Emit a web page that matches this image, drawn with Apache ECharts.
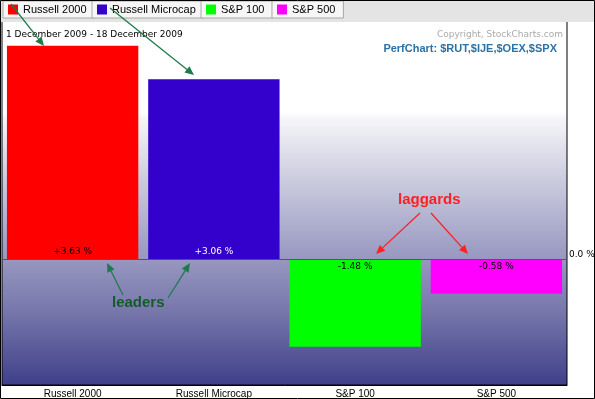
<!DOCTYPE html>
<html>
<head>
<meta charset="utf-8">
<script src="https://cdn.jsdelivr.net/npm/echarts@6/dist/echarts.min.js"></script>
<style>
  html, body { margin: 0; padding: 0; background: #fff; }
  #perfChart { width: 595px; height: 399px; }
</style>
</head>
<body>
<div id="perfChart"></div>
<script>
// PerfChart 1 Dec 2009 - 18 Dec 2009
const categories = ['Russell 2000', 'Russell Microcap', 'S&P 100', 'S&P 500']
const changes = [3.63, 3.06, -1.48, -0.58]
const barColors = ['#ff0000', '#3300cc', '#00ff00', '#ff00ff']
const labelColors = ['#000', '#fff', '#000', '#000']
const tabLefts = [3, 92, 201, 272]

const myChart = echarts.init(document.getElementById('perfChart'))

const fmt = v => (v > 0 ? '+' : '') + v.toFixed(2) + ' %'

const series = categories.map((name, i) => {
  return {
    name: name,
    type: 'bar',
    stack: 'perf',
    barCategoryGap: '7%',
    data: categories.map((c, j) => (j === i ? changes[i] : '-')),
    itemStyle: { color: barColors[i] },
    label: {
      show: true,
      position: changes[i] >= 0 ? 'insideBottom' : 'insideTop',
      distance: 3,
      fontSize: 9,
      fontFamily: 'DejaVu Sans',
      color: labelColors[i],
      formatter: p => fmt(p.value)
    },
    markLine: i === 0 ? {
      silent: true,
      symbol: 'none',
      lineStyle: { color: '#555', type: 'solid', width: 1 },
      label: {
        position: 'end',
        formatter: '0.0 %',
        color: '#000',
        fontSize: 9,
        fontFamily: 'DejaVu Sans',
        distance: 2,
        offset: [0, -5]
      },
      data: [{ yAxis: 0 }]
    } : undefined
  }
})

// arrow helper for the hand drawn annotations
function arrow(x1, y1, x2, y2, color) {
  const a = Math.atan2(y2 - y1, x2 - x1)
  const len = 9, w = 4
  const bx = x2 - len * Math.cos(a), by = y2 - len * Math.sin(a)
  return [
    { type: 'line', shape: { x1: x1, y1: y1, x2: bx, y2: by }, style: { stroke: color, lineWidth: 1.3 }, z: 100 },
    {
      type: 'polygon',
      shape: { points: [[x2, y2], [bx + w * Math.sin(a), by - w * Math.cos(a)], [bx - w * Math.sin(a), by + w * Math.cos(a)]] },
      style: { fill: color },
      z: 100
    }
  ]
}

const green = '#1f7a4a'
const red = '#ff2020'

const option = {
  animation: false,
  textStyle: { fontFamily: 'Liberation Sans' },
  title: [
    {
      text: '1 December 2009 - 18 December 2009',
      left: 6, top: 30, padding: 0,
      textStyle: { fontSize: 9, fontWeight: 'normal', color: '#000', fontFamily: 'DejaVu Sans' }
    },
    {
      text: 'Copyright, StockCharts.com',
      right: 32, top: 30, padding: 0,
      textStyle: { fontSize: 9, fontWeight: 'normal', color: '#aaa', fontFamily: 'DejaVu Sans' }
    },
    {
      text: 'PerfChart: $RUT,$IJE,$OEX,$SPX',
      right: 38, top: 43, padding: 0,
      textStyle: { fontSize: 11, fontWeight: 'bold', color: '#2b72a6', fontFamily: 'Liberation Sans' }
    }
  ],
  legend: categories.map((name, i) => {
    return {
      data: [name],
      left: tabLefts[i],
      top: 1,
      z: 60,
      icon: 'rect',
      itemWidth: 10,
      itemHeight: 10,
      itemGap: 5,
      padding: [3, 8, 3, 5],
      backgroundColor: '#f6f6f6',
      borderColor: '#a8a8a8',
      borderWidth: 1,
      textStyle: { fontSize: 11, color: '#000', fontFamily: 'Liberation Sans' }
    }
  }),
  grid: {
    left: 2,
    right: 28,
    top: 21,
    bottom: 12,
    containLabel: false,
    show: true,
    borderColor: '#000',
    borderWidth: 1,
    backgroundColor: {
      type: 'linear', x: 0, y: 0, x2: 0, y2: 1,
      colorStops: [
        { offset: 0, color: '#ffffff' },
        { offset: 0.25, color: '#ffffff' },
        { offset: 0.27, color: '#f5f5f9' },
        { offset: 0.43, color: '#cdcde0' },
        { offset: 0.65, color: '#9898c1' },
        { offset: 0.8, color: '#7676ab' },
        { offset: 1, color: '#3f3f8a' }
      ]
    }
  },
  xAxis: {
    type: 'category',
    data: categories,
    axisLine: { onZero: false, lineStyle: { color: '#000' } },
    axisTick: { show: false },
    axisLabel: { fontSize: 10, color: '#000', margin: 4, fontFamily: 'Liberation Sans' }
  },
  yAxis: {
    type: 'value',
    min: -2.13,
    max: 4.05,
    show: false,
    splitLine: { show: false }
  },
  series: series,
  graphic: [
    { type: 'rect', shape: { x: 0, y: 0, width: 595, height: 22 }, style: { fill: '#e4e4e4' }, z: 50 },
    { type: 'rect', shape: { x: 0.5, y: 0.5, width: 594, height: 398 }, style: { fill: null, stroke: '#000', lineWidth: 1 }, z: 200 },
    { type: 'text', left: 112, top: 295, style: { text: 'leaders', fill: '#135c2a', font: 'bold 15px "Liberation Sans"' }, z: 100 },
    { type: 'text', left: 398, top: 192, style: { text: 'laggards', fill: red, font: 'bold 15px "Liberation Sans"' }, z: 100 },
    ...arrow(11, 4, 44, 46, green),
    ...arrow(110, 8, 194, 75, green),
    ...arrow(123, 295, 107, 263, green),
    ...arrow(168, 298, 190, 263, green),
    ...arrow(420, 213, 376, 254, red),
    ...arrow(431, 213, 468, 254, red)
  ]
}

myChart.setOption(option)
window.addEventListener('resize', () => {
  myChart.resize()
})
</script>
</body>
</html>
